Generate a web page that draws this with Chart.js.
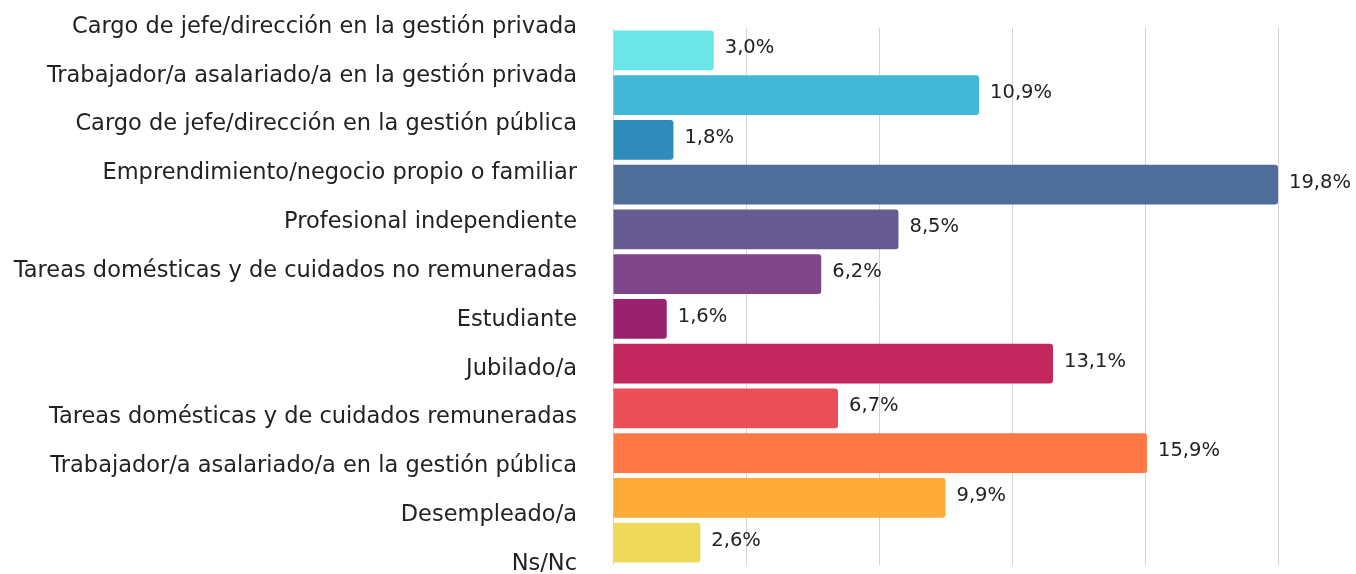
<!DOCTYPE html>
<html>
<head>
<meta charset="utf-8">
<script src="https://cdn.jsdelivr.net/npm/chart.js@4"></script>
<style>
html,body{margin:0;padding:0;background:#fff;}
#wrap{width:1356px;height:574px;position:relative;}
</style>
</head>
<body>
<div id="wrap"><canvas id="c"></canvas></div>
<script>
const categories = [
  "Cargo de jefe/dirección en la gestión privada",
  "Trabajador/a asalariado/a en la gestión privada",
  "Cargo de jefe/dirección en la gestión pública",
  "Emprendimiento/negocio propio o familiar",
  "Profesional independiente",
  "Tareas domésticas y de cuidados no remuneradas",
  "Estudiante",
  "Jubilado/a",
  "Tareas domésticas y de cuidados remuneradas",
  "Trabajador/a asalariado/a en la gestión pública",
  "Desempleado/a",
  "Ns/Nc"
];
const values = [3.0, 10.9, 1.8, 19.8, 8.5, 6.2, 1.6, 13.1, 6.7, 15.9, 9.9, 2.6];
const colors = ["#6be6e8","#42b8d6","#2e8bba","#4f6d99","#665b90","#7f4589","#9a216e","#c2285e","#ea4f59","#ff7845","#ffab3a","#efd95a"];

const FONT = "'DejaVu Sans', sans-serif";
const TEXT = "#222222";

const valueLabels = {
  id: 'valueLabels',
  afterDatasetsDraw(chart) {
    const ctx = chart.ctx;
    const meta = chart.getDatasetMeta(0);
    ctx.save();
    ctx.font = "19.5px " + FONT;
    ctx.fillStyle = TEXT;
    ctx.textAlign = 'left';
    ctx.textBaseline = 'middle';
    meta.data.forEach((bar, i) => {
      const txt = values[i].toFixed(1).replace('.', ',') + '%';
      ctx.fillText(txt, bar.x + 11, bar.y - 2);
    });
    ctx.restore();
  }
};

new Chart(document.getElementById('c'), {
  type: 'bar',
  data: {
    labels: categories,
    datasets: [{
      data: values,
      backgroundColor: colors,
      borderWidth: 0,
      borderRadius: {topRight: 3, bottomRight: 3, topLeft: 0, bottomLeft: 0},
      borderSkipped: false,
      categoryPercentage: 1.0,
      barPercentage: 0.89
    }]
  },
  options: {
    indexAxis: 'y',
    responsive: true,
    maintainAspectRatio: false,
    animation: false,
    layout: {padding: {left: 10, right: 78, top: 28, bottom: 9}},
    plugins: {legend: {display: false}, tooltip: {enabled: false}},
    scales: {
      x: {
        min: 0, max: 19.8,
        ticks: {display: false, stepSize: 3.96},
        grid: {color: '#d4d4d4', drawTicks: false, lineWidth: 1},
        border: {display: false},
        afterFit(axis) { axis.height = 0; axis.paddingLeft = 0; axis.paddingRight = 0; axis.paddingTop = 0; axis.paddingBottom = 0; }
      },
      y: {
        type: 'category',
        display: false
      },
      yl: {
        type: 'category',
        labels: categories,
        position: 'left',
        offset: false,
        grid: {display: false, drawTicks: false},
        border: {display: false},
        afterFit(axis) { axis.width = 603; axis.paddingTop = 0; axis.paddingBottom = 0; },
        ticks: {
          color: TEXT,
          font: {family: FONT, size: 22.5},
          padding: 36,
          labelOffset: -1,
          autoSkip: false
        }
      }
    }
  },
  plugins: [valueLabels]
});
</script>
</body>
</html>
